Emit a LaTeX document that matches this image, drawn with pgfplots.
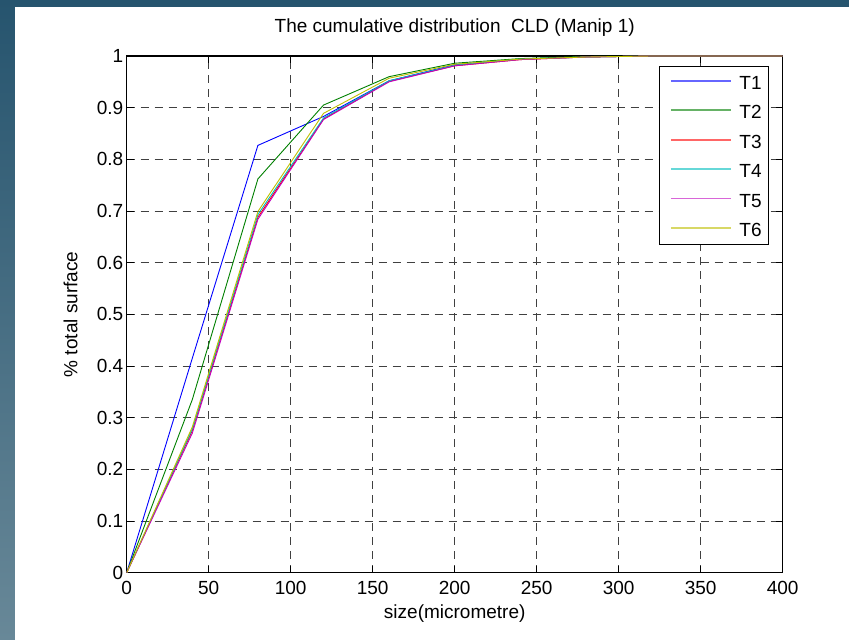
\documentclass[border=0pt]{standalone}
\usepackage{fontspec}
\setmainfont{Liberation Sans}
\usepackage{pgfplots}
\pgfplotsset{compat=1.18}
\definecolor{bgtop}{RGB}{38,84,110}
\definecolor{bgbot}{RGB}{104,136,152}
\definecolor{cA}{rgb}{0,0,1}
\definecolor{cB}{rgb}{0,0.5,0}
\definecolor{cC}{rgb}{1,0,0}
\definecolor{cD}{rgb}{0,0.75,0.75}
\definecolor{cE}{rgb}{0.75,0,0.75}
\definecolor{cF}{rgb}{0.75,0.75,0}
\newcommand{\ff}{\fontsize{19}{22}\selectfont}
\begin{document}
\begin{tikzpicture}[x=1pt,y=1pt,font=\ff]
\shade[top color=bgtop,bottom color=bgbot] (0,0) rectangle (849,640);
\fill[white] (15,0) rectangle (849,633);
\begin{axis}[
  at={(126.7pt,67.3pt)}, anchor=south west,
  scale only axis, width=656pt, height=516.7pt,
  xmin=0, xmax=400, ymin=0, ymax=1,
  xtick={0,50,100,150,200,250,300,350,400},
  ytick={0,0.1,0.2,0.3,0.4,0.5,0.6,0.7,0.8,0.9,1},
  yticklabels={0,0.1,0.2,0.3,0.4,0.5,0.6,0.7,0.8,0.9,1},
  xticklabels={0,50,100,150,200,250,300,350,400},
  tick align=inside, major tick length=7pt,
  tick style={black, line width=0.9pt},
  axis line style={black, line width=1.2pt},
  grid=major,
  major grid style={black!75, line width=0.8pt, dash pattern=on 8pt off 6pt},
  tick label style={font=\ff},
  xticklabel style={yshift=-5pt},
  title={The cumulative distribution \ CLD (Manip 1)},
  title style={font=\ff, at={(axis description cs:0.5,1)}, anchor=base, yshift=17.7pt},
  xlabel={size(micrometre)},
  xlabel style={font=\ff, at={(axis description cs:0.5,0)}, anchor=base, yshift=-45.6pt},
  ylabel={\% total surface},
  every axis y label/.style={at={(axis description cs:-0.0753,0.5)}, rotate=90, anchor=base, font=\ff},
  every axis plot/.append style={line width=0.9pt},
  legend style={at={(axis description cs:1,1)}, anchor=north east, xshift=-14.4pt, yshift=-9.7pt,
    font=\ff, inner xsep=6.5pt, inner ysep=6pt, row sep=10.3pt,
    nodes={inner sep=0pt, text height=17.6pt}},
  legend cell align=left,
  legend image code/.code={\draw[#1, line width=1.8pt, opacity=0.6] (5pt,0.5pt) -- (65pt,0.5pt); \path (0pt,0pt) (73pt,0pt);},
]
\addplot[draw=cA] coordinates {(0,0) (40,0.415) (80,0.827) (120,0.883) (160,0.952) (200,0.983) (240,0.994) (280,0.998) (320,1) (360,1) (400,1)};
\addlegendentry{T1}
\addplot[draw=cB] coordinates {(0,0) (40,0.335) (80,0.762) (120,0.905) (160,0.960) (200,0.986) (240,0.995) (280,0.999) (320,1) (360,1) (400,1)};
\addlegendentry{T2}
\addplot[draw=cC] coordinates {(0,0) (40,0.275) (80,0.688) (120,0.878) (160,0.951) (200,0.981) (240,0.993) (280,0.998) (320,1) (360,1) (400,1)};
\addlegendentry{T3}
\addplot[draw=cD] coordinates {(0,0) (40,0.278) (80,0.693) (120,0.880) (160,0.952) (200,0.982) (240,0.994) (280,0.998) (320,1) (360,1) (400,1)};
\addlegendentry{T4}
\addplot[draw=cE] coordinates {(0,0) (40,0.270) (80,0.684) (120,0.877) (160,0.950) (200,0.981) (240,0.993) (280,0.998) (320,1) (360,1) (400,1)};
\addlegendentry{T5}
\addplot[draw=cF] coordinates {(0,0) (40,0.282) (80,0.699) (120,0.889) (160,0.957) (200,0.984) (240,0.994) (280,0.998) (320,1) (360,1) (400,1)};
\addlegendentry{T6}
\end{axis}
\end{tikzpicture}
\end{document}
